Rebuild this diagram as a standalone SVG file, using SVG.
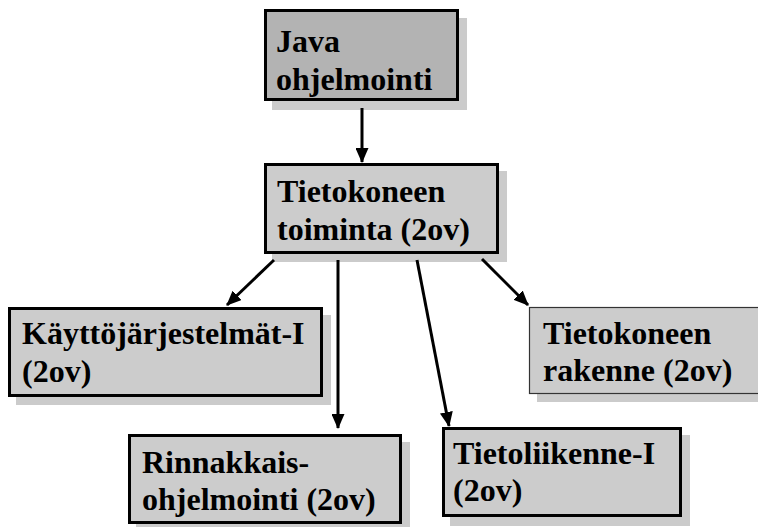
<svg xmlns="http://www.w3.org/2000/svg" width="758" height="527" viewBox="0 0 758 527">
<style>
.shadow{fill:#cbcbcb;stroke:none}
.box{fill:#cccccc;stroke:#000;stroke-width:3}
.dark{fill:#b3b3b3}
.thin{stroke:#333;stroke-width:1.2}
.t{font-weight:bold;font-size:32px;fill:#000}
.conn{stroke:#000;stroke-width:3;fill:none;marker-end:url(#ah)}
</style>
<defs>
<marker id="ah" markerUnits="userSpaceOnUse" markerWidth="15" markerHeight="13" refX="14" refY="6.5" orient="auto">
<path d="M0,0 L15,6.5 L0,13 z" fill="#000"/>
</marker>
</defs>
<rect width="758" height="527" fill="#fff"/>
<g font-family="Liberation Serif, Tinos, DejaVu Serif, serif">
<g id="java">
<rect class="shadow" x="272" y="18" width="195" height="92"/>
<rect class="box dark" x="265.5" y="10.5" width="192" height="89"/>
<text class="t" x="276" y="52">Java</text>
<text class="t" x="276" y="90">ohjelmointi</text>
</g>
<g id="toiminta">
<rect class="shadow" x="272" y="171" width="235" height="91"/>
<rect class="box" x="265.5" y="164.5" width="232" height="88"/>
<text class="t" x="277" y="202">Tietokoneen</text>
<text class="t" x="277" y="240">toiminta (2ov)</text>
</g>
<g id="kayttojarjestelmat">
<rect class="shadow" x="16" y="315" width="315" height="90"/>
<rect class="box" x="9.5" y="308.5" width="312" height="87"/>
<text class="t" x="22" y="344">Käyttöjärjestelmät-I</text>
<text class="t" x="22" y="382">(2ov)</text>
</g>
<g id="rinnakkais">
<rect class="shadow" x="136" y="442" width="274" height="90"/>
<rect class="box" x="129.5" y="435.5" width="271" height="87"/>
<text class="t" x="142" y="473">Rinnakkais-</text>
<text class="t" x="142" y="510">ohjelmointi (2ov)</text>
</g>
<g id="tietoliikenne">
<rect class="shadow" x="450" y="435" width="240" height="91"/>
<rect class="box" x="443.5" y="428.5" width="237" height="87"/>
<text class="t" x="453" y="464">Tietoliikenne-I</text>
<text class="t" x="453" y="501">(2ov)</text>
</g>
<g id="rakenne">
<rect class="shadow" x="537" y="315" width="240" height="87"/>
<rect class="box thin" x="529.5" y="307.5" width="240" height="86"/>
<text class="t" x="543" y="344">Tietokoneen</text>
<text class="t" x="543" y="381">rakenne (2ov)</text>
</g>
</g>
<g id="connectors">
<line class="conn" x1="362" y1="108" x2="362" y2="162"/>
<line class="conn" x1="274" y1="260" x2="227" y2="305"/>
<line class="conn" x1="338" y1="260" x2="338" y2="428"/>
<line class="conn" x1="417" y1="260" x2="449" y2="426"/>
<line class="conn" x1="482" y1="259" x2="528" y2="305"/>
</g>
</svg>
